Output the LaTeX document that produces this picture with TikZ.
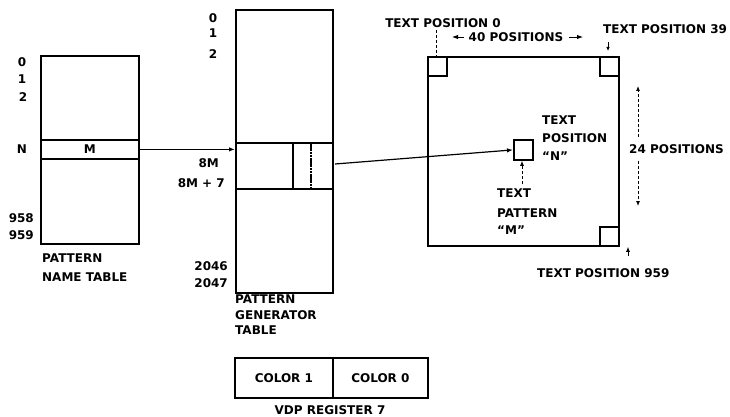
\documentclass[tikz,border=0pt]{standalone}
\usepackage{fontspec}
\setmainfont{DejaVu Sans}
\usetikzlibrary{arrows.meta}
\begin{document}
\begin{tikzpicture}[x=1pt,y=-1pt,
  box/.style={draw, line width=1.8pt, inner sep=0pt, anchor=north west, minimum width=#1},
  lbl/.style={font=\fontsize{12}{14}\selectfont\bfseries, inner sep=0pt},
  conn/.style={line width=1.2pt, -{Latex[length=6pt,width=4.5pt]}},
  dconn/.style={line width=0.8pt, densely dashed, -{Latex[length=5pt,width=4pt]}},
  dline/.style={line width=0.8pt, densely dashed}]
\useasboundingbox (0,0) rectangle (730,417);
% pattern name table
\node[box=98pt, minimum height=188pt] (pnt) at (40,55) {};
\node[box=98pt, minimum height=19pt, lbl] (mrow) at (40,139) {M};
\node[lbl] (n0) at (22,62) {0};
\node[lbl] (n1) at (22,79) {1};
\node[lbl] (n2) at (23,97) {2};
\node[lbl] (nN) at (22,149) {N};
\node[lbl, anchor=east] (n958) at (34,218) {958};
\node[lbl, anchor=east] (n959) at (34,235) {959};
\node[lbl, anchor=west] (pntA) at (42,258) {PATTERN};
\node[lbl, anchor=west] (pntB) at (42,277) {NAME TABLE};
% pattern generator table
\node[box=97pt, minimum height=283pt] (pgt) at (235,9) {};
\node[box=97pt, minimum height=46pt] (band) at (235,142) {};
\coordinate (v1) at (293,142);
\coordinate (v2) at (311,142);
\draw[line width=1.5pt] (v1) -- (v1 |- band.south);
\draw[line width=1.5pt, dash pattern=on 2.5pt off 0.7pt] (v2) -- (v2 |- band.south);
\node[lbl] (g0) at (213,18) {0};
\node[lbl] (g1) at (213,33) {1};
\node[lbl] (g2) at (213,54) {2};
\node[lbl, anchor=east] (g8m) at (219,163) {8M};
\node[lbl, anchor=east] (g8m7) at (225,183) {8M + 7};
\node[lbl, anchor=east] (g2046) at (228,266) {2046};
\node[lbl, anchor=east] (g2047) at (228,283) {2047};
\node[lbl, anchor=west] (pgtA) at (235,299) {PATTERN};
\node[lbl, anchor=west] (pgtB) at (235,315) {GENERATOR};
\node[lbl, anchor=west] (pgtC) at (235,330) {TABLE};
% color register
\node[box=98pt, minimum height=40pt, lbl] (col1) at (234,357) {COLOR 1};
\node[box=95pt, minimum height=40pt, lbl] (col0) at (332,357) {COLOR 0};
\node[lbl] (vdp) at (330,410) {VDP REGISTER 7};
% screen
\node[box=191pt, minimum height=189pt] (scr) at (427,56) {};
\node[box=19pt, minimum height=19pt] (c0) at (427,56) {};
\node[box=19pt, minimum height=19pt] (c39) at (599,56) {};
\node[box=19pt, minimum height=19pt] (c959) at (599,226) {};
\node[box=19pt, minimum height=20pt] (cn) at (513,139) {};
% labels of screen
\node[lbl, anchor=east] (tp0) at (501,23) {TEXT POSITION 0};
\coordinate (t0) at (436,30);
\draw[dline] (t0) -- (t0 |- c0.north);
\node[lbl] (p40) at (516,37) {40 POSITIONS};
\coordinate (la) at (464,37);
\coordinate (lb) at (452,37);
\coordinate (ra) at (569,37);
\coordinate (rb) at (583,37);
\draw[conn, line width=0.9pt] (la) -- (lb);
\draw[conn, line width=0.9pt] (ra) -- (rb);
\node[lbl, anchor=west] (tp39) at (603,29) {TEXT POSITION 39};
\coordinate (t39a) at (608,42);
\coordinate (t39b) at (608,51);
\draw[line width=0.8pt, -{Latex[length=4pt,width=3.5pt]}] (t39a) -- (t39b);
\node[lbl, anchor=west] (p24) at (629,149) {24 POSITIONS};
\coordinate (u1) at (638,137);
\coordinate (u2) at (638,86);
\coordinate (d1) at (638,161);
\coordinate (d2) at (638,206);
\draw[dconn] (u1) -- (u2);
\draw[dconn] (d1) -- (d2);
\node[lbl, anchor=west] (tpnA) at (542,120) {TEXT};
\node[lbl, anchor=west] (tpnB) at (542,138) {POSITION};
\node[lbl, anchor=west] (tpnC) at (542,156) {“N”};
\node[lbl, anchor=west] (tpmA) at (497,193) {TEXT};
\node[lbl, anchor=west] (tpmB) at (497,213) {PATTERN};
\node[lbl, anchor=west] (tpmC) at (497,230) {“M”};
\coordinate (pm) at (522,184);
\draw[dconn] (pm) -- (pm |- cn.south);
\node[lbl, anchor=west] (tp959) at (537,273) {TEXT POSITION 959};
\coordinate (p959) at (628,256);
\draw[line width=0.8pt, -{Latex[length=5pt,width=4pt]}] (p959) -- (p959 |- c959.south);
% connectors
\draw[conn] (mrow.east) -- (band.west |- mrow.east);
\coordinate (s2) at (335,164);
\draw[conn] (s2) -- (cn.west);
\end{tikzpicture}
\end{document}
